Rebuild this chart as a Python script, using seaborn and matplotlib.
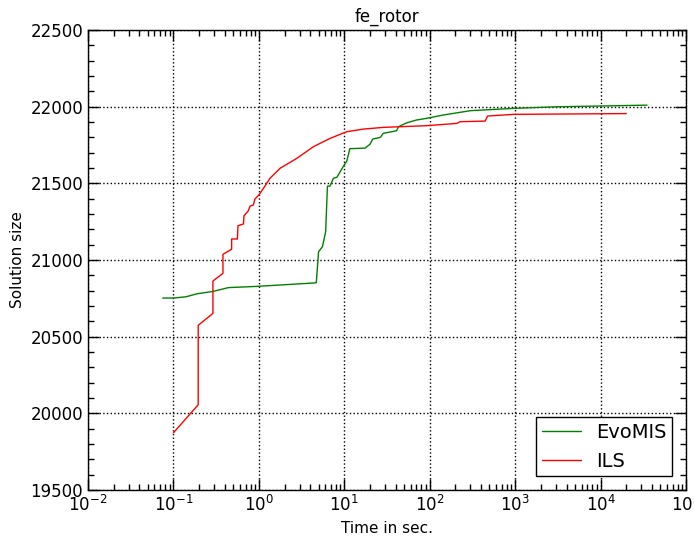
import pandas as pd
import matplotlib
matplotlib.use("Agg")
import matplotlib.pyplot as plt
from matplotlib.ticker import MultipleLocator, FixedLocator
import seaborn as sns

# values
evo_time = [0.075, 0.1, 0.14, 0.19, 0.29, 0.44, 0.95, 4.35, 4.7, 5.0, 5.55, 6.05,
            6.35, 6.8, 7.45, 8.2, 9.8, 10.7, 11.6, 17.5, 20, 21.5, 26.5, 28.5,
            41, 43, 54, 70, 92, 145, 300, 960, 2900, 35000]
evo_size = [20752, 20752, 20760, 20780, 20795, 20820, 20828, 20850, 20852, 21054,
            21087, 21185, 21482, 21482, 21533, 21540, 21613, 21645, 21726, 21730,
            21755, 21789, 21800, 21826, 21843, 21869, 21895, 21913, 21924, 21946,
            21974, 21989, 21999, 22010]

ils_time = [0.1, 0.195, 0.195, 0.29, 0.29, 0.38, 0.38, 0.48, 0.48, 0.56, 0.57,
            0.66, 0.67, 0.75, 0.79, 0.86, 0.9, 1.0, 1.13, 1.35, 1.77, 2.78, 4.35,
            6.8, 10.7, 16.8, 28.6, 92, 208, 226, 445, 475, 960, 20000]
ils_size = [19873, 20056, 20574, 20652, 20863, 20913, 21037, 21070, 21137, 21137,
            21224, 21235, 21289, 21320, 21352, 21358, 21398, 21424, 21467, 21533,
            21598, 21663, 21739, 21793, 21837, 21854, 21865, 21876, 21891, 21902,
            21906, 21939, 21950, 21955]

y_ticks = [19500, 20000, 20500, 21000, 21500, 22000, 22500]

df = pd.concat([
    pd.DataFrame({"time": evo_time, "size": evo_size, "algo": "EvoMIS"}),
    pd.DataFrame({"time": ils_time, "size": ils_size, "algo": "ILS"}),
], ignore_index=True)

sns.set_style("ticks", {"xtick.direction": "in", "ytick.direction": "in",
                        "text.color": "black", "axes.labelcolor": "black",
                        "xtick.color": "black", "ytick.color": "black"})
plt.rcParams["font.family"] = ["DejaVu Sans"]

fig = plt.figure(figsize=(6.94, 5.40), dpi=100)
ax = fig.add_axes([0.1268, 0.0926, 0.8617, 0.8518])

sns.lineplot(data=df, x="time", y="size", hue="algo", estimator=None, sort=False,
             palette={"EvoMIS": "green", "ILS": "red"}, linewidth=1.0, ax=ax)

ax.set_xscale("log")
ax.set_xlim(1e-2, 1e5)
ax.set_ylim(19500, 22500)
ax.yaxis.set_major_locator(FixedLocator(y_ticks))
ax.yaxis.set_minor_locator(MultipleLocator(100))
ax.grid(True, which="major", color="black", linestyle=":", linewidth=1.0)

ax.tick_params(which="both", direction="in", top=True, right=True, labelsize=12,
               colors="black")
ax.tick_params(which="major", length=8, width=1)
ax.tick_params(which="minor", length=4, width=1)
for s in ax.spines.values():
    s.set_color("black")
    s.set_linewidth(1.0)

ax.set_title("fe_rotor", fontsize=12, color="black")
ax.set_xlabel("Time in sec.", fontsize=11, color="black")
ax.set_ylabel("Solution size", fontsize=11, color="black")

leg = ax.legend(loc="lower right", fontsize=14, fancybox=False, framealpha=1,
                edgecolor="black", borderpad=0.3, handlelength=2,
                borderaxespad=0.7)
leg.get_frame().set_linewidth(1.0)

fig.savefig("out.png", dpi=100)
